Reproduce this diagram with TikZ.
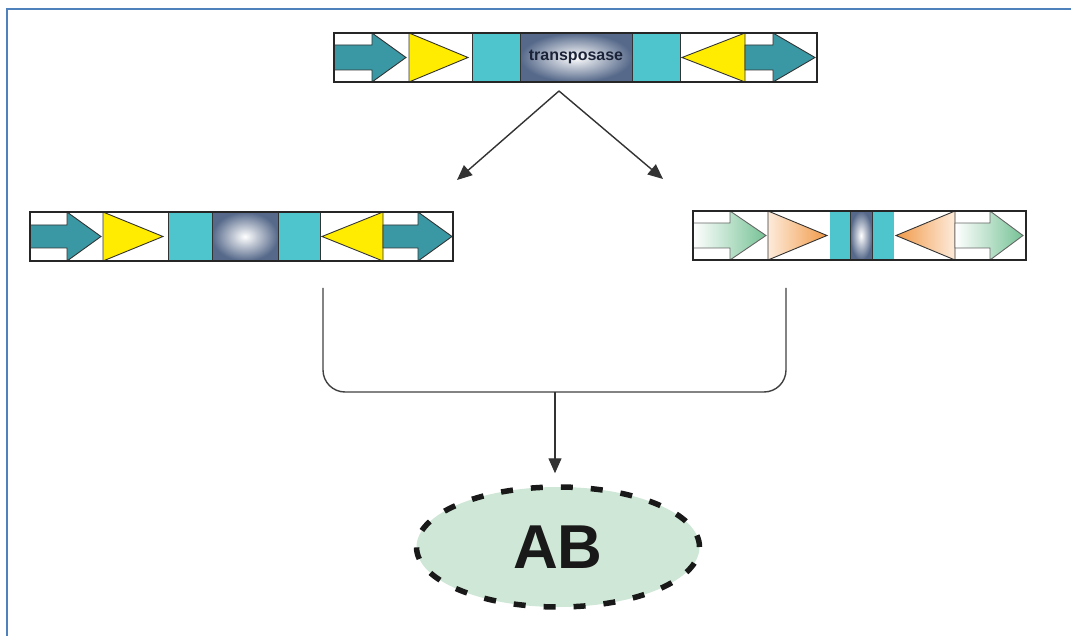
\documentclass[tikz,border=0pt]{standalone}
\usepackage{fontspec}
\setmainfont{Liberation Sans}
\usetikzlibrary{arrows.meta,shapes.geometric}
\definecolor{frameblue}{HTML}{4F81BD}
\definecolor{tealarr}{HTML}{3A98A4}
\definecolor{padcyan}{HTML}{4EC4CC}
\definecolor{slate}{HTML}{56698A}
\definecolor{tri}{HTML}{FFEC00}
\definecolor{mint}{HTML}{76C295}
\definecolor{peach}{HTML}{F19A48}
\definecolor{paleorange}{HTML}{FDEBDB}
\definecolor{abfill}{HTML}{CFE7D6}
\definecolor{navy}{HTML}{1B2338}

\begin{document}
\begin{tikzpicture}[x=1pt,y=-1pt,
  strip/.style={draw=black!85,line width=1.6pt},
  part/.style={draw=black!80,line width=0.9pt},
  pad/.style={part,fill=padcyan},
  gene/.style={part,inner color=white,outer color=slate},
  marker/.style={part,fill=tealarr},
  repeat/.style={part,fill=tri},
  arr/.style={-{Triangle[length=15pt,width=13pt]},line width=1.4pt,draw=black!80}]
\useasboundingbox (0,0) rectangle (1071,636);
\draw[frameblue,line width=2.2pt] (7,636) -- (7,9) -- (1071,9);

% full element with transposase gene
\draw[marker] (334,45) -- (372,45) -- (372,33) -- (406,57.5) -- (372,82) -- (372,70) -- (334,70) -- cycle;
\draw[repeat] (409,33) -- (468,57.5) -- (409,82) -- cycle;
\foreach \a/\b in {472/520,632/680} \draw[pad] (\a,33) rectangle (\b,82);
\draw[gene] (520,33) rectangle (632,82);
\node[font=\fontsize{16}{18}\selectfont\bfseries,text=navy] (tp) at (576,57) {transposase};
\draw[repeat] (745,33) -- (682,57.5) -- (745,82) -- cycle;
\draw[marker] (745,45) -- (773,45) -- (773,33) -- (815,57.5) -- (773,82) -- (773,70) -- (745,70) -- cycle;
\draw[strip] (334,33) rectangle (817,82);

% copy after transposition
\draw[marker] (30,225) -- (67,225) -- (67,212) -- (101,236.5) -- (67,261) -- (67,248) -- (30,248) -- cycle;
\draw[repeat] (103,212) -- (163,236.5) -- (103,261) -- cycle;
\foreach \a/\b in {168/212,278/320} \draw[pad] (\a,212) rectangle (\b,261);
\draw[gene] (212,212) rectangle (278,261);
\draw[repeat] (383,212) -- (322,236.5) -- (383,261) -- cycle;
\draw[marker] (383,225) -- (418,225) -- (418,212) -- (452,236.5) -- (418,261) -- (418,248) -- (383,248) -- cycle;
\draw[strip] (30,212) rectangle (453,261);

% non-autonomous copy
\draw[part,draw=black!60,left color=white,right color=mint] (693,223) -- (730,223) -- (730,211) -- (766,235.5) -- (730,260) -- (730,248) -- (693,248) -- cycle;
\draw[part,left color=paleorange,right color=peach] (768,211) -- (827,235.5) -- (768,260) -- cycle;
\foreach \a/\b in {830/850,872/894} \fill[padcyan] (\a,211) rectangle (\b,260);
\draw[gene] (850,211) rectangle (872,260);
\draw[part,left color=peach,right color=paleorange] (955,211) -- (896,235.5) -- (955,260) -- cycle;
\draw[part,draw=black!60,left color=white,right color=mint] (955,223) -- (990,223) -- (990,211) -- (1023,235.5) -- (990,260) -- (990,248) -- (955,248) -- cycle;
\draw[strip] (693,211) rectangle (1026,260);

\node[ellipse,draw=black!90,fill=abfill,line width=5.5pt,dash pattern=on 12pt off 18pt,
  minimum width=283pt,minimum height=120pt,font=\fontsize{62}{64}\selectfont\bfseries,text=black!90] (ab) at (558,547) {AB};

\coordinate (split) at (559,91);
\coordinate (lend) at (457,180);
\coordinate (rend) at (663,179);
\draw[arr] (split) -- (lend);
\draw[arr] (split) -- (rend);

\coordinate (lfoot) at (323,288);
\coordinate (rfoot) at (786,288);
\coordinate (join) at (555,392);
\draw[line width=1.4pt,draw=black!75,rounded corners=22pt] (lfoot) |- (join) -| (rfoot);
\draw[arr,shorten >=11pt] (join) -- (join |- ab.north);
\end{tikzpicture}
\end{document}
